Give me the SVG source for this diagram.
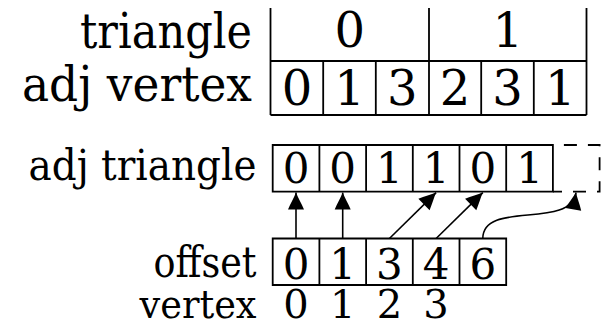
<svg xmlns="http://www.w3.org/2000/svg" width="603" height="326" viewBox="0 0 603 326">
<defs>
<style>
text{font-family:'DejaVu Serif','Liberation Serif',serif;fill:#000}
.big{font-size:48px}
.sm{font-size:42px}
.xs{font-size:40px}
.lab{text-anchor:end}
.d{text-anchor:middle}
.box{fill:none;stroke:#000;stroke-width:1.8}
.edge{fill:none;stroke:#000;stroke-width:1.6}
.dash{fill:none;stroke:#000;stroke-width:1.8;stroke-dasharray:13 11}
</style>
<marker id="ah" markerUnits="userSpaceOnUse" viewBox="-18 -9 19 18" markerWidth="19" markerHeight="18" refX="0" refY="0" orient="auto">
<path d="M0,0 C-5,-2 -11,-5.5 -17,-8 L-17,8 C-11,5.5 -5,2 0,0 Z" fill="#000"/>
</marker>
</defs>
<rect width="603" height="326" fill="#fff"/>

<g id="labels">
<text class="big lab" x="252" y="48" textLength="172" lengthAdjust="spacingAndGlyphs">triangle</text>
<text class="big lab" x="252" y="101" textLength="230" lengthAdjust="spacingAndGlyphs">adj vertex</text>
<text class="sm lab" x="256.5" y="180" textLength="228" lengthAdjust="spacingAndGlyphs">adj triangle</text>
<text class="sm lab" x="256.5" y="277" textLength="103" lengthAdjust="spacingAndGlyphs">offset</text>
<text class="xs lab" x="256.5" y="318" textLength="117" lengthAdjust="spacingAndGlyphs">vertex</text>
</g>

<g id="triangle-table">
<path class="box" d="M270.5,8 V115 M429,8 V115 M586.5,8 V115 M270.5,61 H586.5 M270.5,115 H586.5 M323.2,61 V115 M375.8,61 V115 M481.2,61 V115 M533.8,61 V115"/>
<text class="big d" x="349.75" y="47">0</text>
<text class="big d" x="507.75" y="47">1</text>
</g>

<g id="adj-vertex">
<text class="big d" x="296.9" y="105">0</text>
<text class="big d" x="349.5" y="105">1</text>
<text class="big d" x="402.2" y="105">3</text>
<text class="big d" x="454.9" y="105">2</text>
<text class="big d" x="507.5" y="105">3</text>
<text class="big d" x="560.2" y="105">1</text>
</g>

<g id="adj-triangle">
<path class="box" d="M272.7,145 H552.9 V191.7 H272.7 Z M319.4,145 V191.7 M366.1,145 V191.7 M412.8,145 V191.7 M459.5,145 V191.7 M506.2,145 V191.7"/>
<path class="dash" d="M552.9,145 H599.6 V191.7 H552.9" stroke-dashoffset="13"/>
<text class="sm d" x="296" y="183">0</text>
<text class="sm d" x="342.7" y="183">0</text>
<text class="sm d" x="389.4" y="183">1</text>
<text class="sm d" x="436.1" y="183">1</text>
<text class="sm d" x="482.8" y="183">0</text>
<text class="sm d" x="529.5" y="183">1</text>
</g>

<g id="offset">
<path class="box" d="M272.7,238.5 H506.2 V285 H272.7 Z M319.4,238.5 V285 M366.1,238.5 V285 M412.8,238.5 V285 M459.5,238.5 V285"/>
<text class="sm d" x="296" y="279">0</text>
<text class="sm d" x="342.7" y="279">1</text>
<text class="sm d" x="389.4" y="279">3</text>
<text class="sm d" x="436.1" y="279">4</text>
<text class="sm d" x="482.8" y="279">6</text>
</g>

<g id="vertex">
<text class="xs d" x="296" y="318">0</text>
<text class="xs d" x="342.7" y="318">1</text>
<text class="xs d" x="389.4" y="318">2</text>
<text class="xs d" x="436.1" y="318">3</text>
</g>

<g id="connectors">
<path class="edge" d="M296,238.5 V192.6" marker-end="url(#ah)"/>
<path class="edge" d="M342.7,238.5 V192.6" marker-end="url(#ah)"/>
<path class="edge" d="M389.4,238.5 L436.1,192.6" marker-end="url(#ah)"/>
<path class="edge" d="M436.1,238.5 L482.8,192.6" marker-end="url(#ah)"/>
<path class="edge" d="M482.8,238.5 C482.8,200 570,230 576,192.6" marker-end="url(#ah)"/>
</g>
</svg>
